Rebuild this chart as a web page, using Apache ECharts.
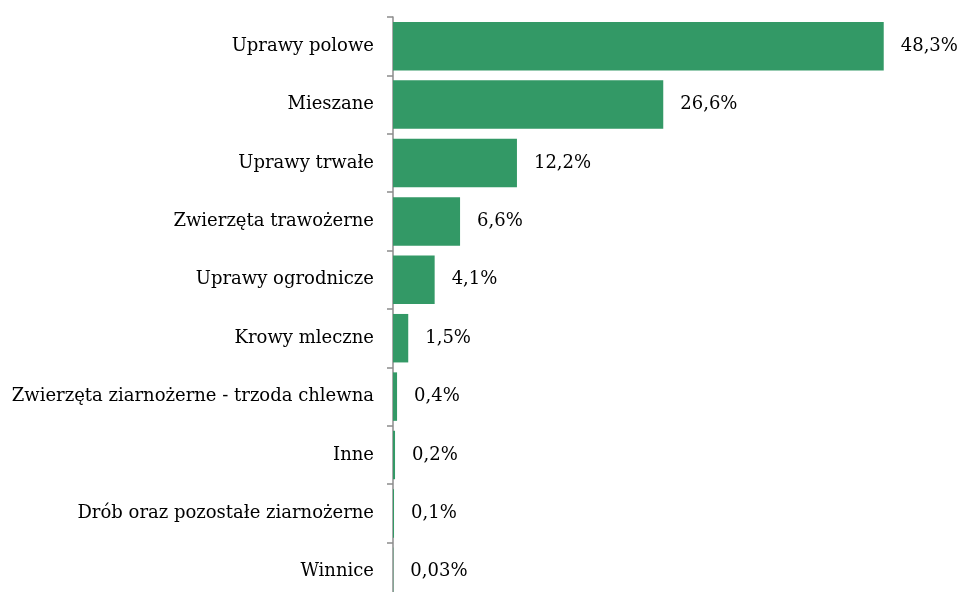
<!DOCTYPE html>
<html>
<head>
<meta charset="utf-8">
<script src="https://cdn.jsdelivr.net/npm/echarts@6/dist/echarts.min.js"></script>
<style>
  html, body { margin: 0; padding: 0; background: #fff; }
  #chart { width: 960px; height: 592px; }
</style>
</head>
<body>
<div id="chart"></div>
<script>
var categories = [
    "Uprawy polowe",
    "Mieszane",
    "Uprawy trwałe",
    "Zwierzęta trawożerne",
    "Uprawy ogrodnicze",
    "Krowy mleczne",
    "Zwierzęta ziarnożerne - trzoda chlewna",
    "Inne",
    "Drób oraz pozostałe ziarnożerne",
    "Winnice"
];
var shares = [48.3, 26.6, 12.2, 6.6, 4.1, 1.5, 0.4, 0.2, 0.1, 0.03];

var chart = echarts.init(document.getElementById("chart"));

chart.setOption({
    animation: false,
    textStyle: { fontFamily: "DejaVu Serif" },
    grid: { left: 393, top: 17, width: 508, height: 584, outerBoundsMode: "none" },
    xAxis: {
        type: "value",
        min: 0,
        max: 50,
        show: false
    },
    yAxis: {
        type: "category",
        data: categories,
        inverse: true,
        axisLine: { lineStyle: { color: "#8c8c8c", width: 1.5 } },
        axisTick: { show: true, alignWithLabel: false, length: 6, lineStyle: { color: "#8c8c8c", width: 1.5 } },
        axisLabel: { color: "#000", fontSize: 18, margin: 19, fontFamily: "DejaVu Serif" }
    },
    series: [{
        type: "bar",
        data: shares,
        barCategoryGap: "17%",
        itemStyle: { color: "#339966" },
        label: {
            show: true,
            position: "right",
            distance: 17,
            color: "#000",
            fontSize: 18,
            fontFamily: "DejaVu Serif",
            formatter: function (p) {
                return String(p.value).replace(".", ",") + "%";
            }
        }
    }]
});
</script>
</body>
</html>
